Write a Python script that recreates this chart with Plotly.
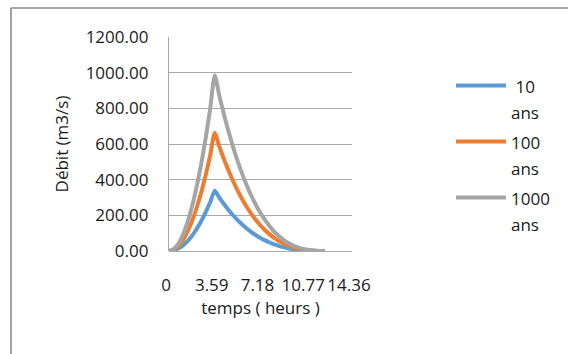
import plotly.graph_objects as go

# time (hours)
temps = [0, 0.359, 0.718, 1.077, 1.436, 1.795, 2.154, 2.513, 2.872, 3.231, 3.59,
         3.949, 4.308, 4.667, 5.026, 5.385, 5.744, 6.103, 6.462, 6.821, 7.18,
         7.539, 7.898, 8.257, 8.616, 8.975, 9.334, 9.693, 10.052, 10.411, 10.77,
         11.129, 11.488, 11.847, 12.206]

q10 = [0, 3.38, 13.52, 30.42, 54.08, 84.5, 121.68, 165.62, 216.32, 273.78, 338,
       299.04, 263.20, 230.34, 200.33, 173.06, 148.37, 126.16, 106.28, 88.60, 73.01,
       59.36, 47.53, 37.38, 28.79, 21.63, 15.77, 11.08, 7.42, 4.67, 2.70,
       1.38, 0.58, 0.17, 0.02]

q100 = [0, 6.62, 26.48, 59.58, 105.92, 165.5, 238.32, 324.38, 423.68, 536.22, 662,
        585.70, 515.49, 451.13, 392.37, 338.94, 290.60, 247.09, 208.15, 173.54, 142.99,
        116.26, 93.08, 73.21, 56.39, 42.37, 30.89, 21.69, 14.53, 9.15, 5.30,
        2.71, 1.14, 0.34, 0.04]

q1000 = [0, 9.85, 39.4, 88.65, 157.6, 246.25, 354.6, 482.65, 630.4, 797.85, 985,
         871.46, 767.01, 671.25, 583.81, 504.32, 432.39, 367.65, 309.72, 258.21, 212.76,
         172.98, 138.50, 108.93, 83.91, 63.04, 45.96, 32.28, 21.62, 13.62, 7.88,
         4.03, 1.70, 0.50, 0.06]

series_lines = [["\u00a010", "ans"], ["100", "ans"], ["1000", "ans"]]
series_values = [q10, q100, q1000]
series_colors = ["#5B9BD5", "#ED7D31", "#A5A5A5"]

x_tickvals = [0, 3.59, 7.18, 10.77, 14.36]
x_ticktext = ["0", "3.59", "7.18", "10.77", "14.36"]

FONT = "'Open Sans', sans-serif"
TXT = "#1a1a1a"
GRID = "#a8a8a8"
FS = 17


def legend_label(lines):
    return "<br>".join(f'<span style="font-size:{FS}px">{s}</span>' for s in lines)


fig = go.Figure()
for i, (lines, vals, col) in enumerate(zip(series_lines, series_values, series_colors)):
    fig.add_trace(go.Scatter(
        x=temps, y=vals, mode="lines", name=legend_label(lines), legendgroup=f"g{i}",
        line=dict(color=col, width=4, shape="spline", smoothing=0.6),
    ))

# plot area in pixels: x 169..352, y 37..251
L, R, T, B = 169, 352, 37, 251
W, H = 568, 354

def px2paper_x(px):
    return (px - L) / (R - L)

def px2paper_y(py):
    return (B - py) / (B - T)

fig.update_layout(
    width=W, height=H,
    margin=dict(l=L, r=W - R, t=T, b=H - B, autoexpand=False),
    paper_bgcolor="white", plot_bgcolor="white",
    font=dict(family=FONT, size=FS, color=TXT),
    showlegend=True,
    legend=dict(
        x=px2paper_x(451), y=px2paper_y(66), xanchor="left", yanchor="top",
        font=dict(family=FONT, size=20, color=TXT),
        valign="top", itemwidth=50, tracegroupgap=1,
        bgcolor="rgba(0,0,0,0)", borderwidth=0,
    ),
    xaxis=dict(
        range=[0, 14.36], tickvals=x_tickvals, ticktext=x_ticktext,
        showgrid=False, zeroline=False, showline=False, ticks="",
        tickangle=0, ticklabelstandoff=22, ticklabelshift=-3,
        title=dict(text="temps ( heurs )", standoff=2, font=dict(size=FS)),
    ),
    yaxis=dict(
        range=[0, 1200], dtick=200, tick0=0, tickformat=".2f",
        showgrid=True, gridcolor=GRID, gridwidth=1.3,
        zeroline=True, zerolinecolor=GRID, zerolinewidth=1.3,
        showline=True, linecolor=GRID, linewidth=1.3, ticks="",
        ticklabelstandoff=16,
        title=dict(text="Débit (m3/s)", standoff=12, font=dict(size=FS)),
    ),
    shapes=[
        dict(type="line", xref="paper", yref="paper",
             x0=px2paper_x(11), y0=px2paper_y(8), x1=px2paper_x(600), y1=px2paper_y(8),
             line=dict(color="#8c8c8c", width=1.6)),
        dict(type="line", xref="paper", yref="paper",
             x0=px2paper_x(11), y0=px2paper_y(8), x1=px2paper_x(11), y1=px2paper_y(400),
             line=dict(color="#8c8c8c", width=1.6)),
    ],
)

fig.write_html("out.html")
